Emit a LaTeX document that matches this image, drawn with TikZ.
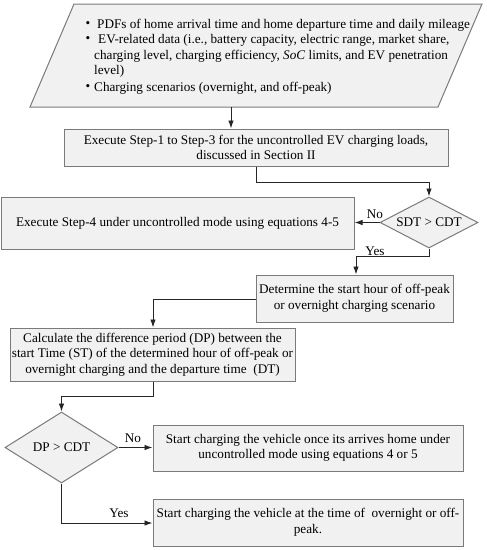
\documentclass[tikz,border=0pt]{standalone}
\usepackage{fontspec}
\setmainfont{Liberation Serif}
\usetikzlibrary{shapes.geometric,arrows.meta}
\definecolor{boxfill}{HTML}{F1F1F1}
\definecolor{boxline}{HTML}{7A7A7A}
\definecolor{arrline}{HTML}{262626}
\tikzset{
  every node/.style={font=\fontsize{13.2}{15.5}\selectfont},
  procbox/.style={draw=boxline, fill=boxfill, line width=1pt, rectangle, inner sep=0pt, align=center},
  decbox/.style={draw=boxline, fill=boxfill, line width=1pt, diamond, aspect=2, inner sep=0pt},
  conn/.style={draw=arrline, line width=0.9pt, -{Latex[length=8pt,width=5.5pt]}},
  lbl/.style={inner sep=0pt},
  txt/.style={inner sep=0pt, anchor=west}
}
\begin{document}
\begin{tikzpicture}[x=1pt,y=-1pt]
\useasboundingbox (0,0) rectangle (487,550);
% input parallelogram
\draw[draw=boxline, fill=boxfill, line width=1pt] (74,4) -- (482,4) -- (438,107) -- (30,107) -- cycle;
\coordinate (inp) at (231,107);
\node[lbl] (b1) at (88,25) {\textbullet};
\node[txt] (t1) at (97,25) {PDFs of home arrival time and home departure time and daily mileage};
\node[lbl] (b2) at (88,40) {\textbullet};
\node[txt] (t2) at (98,40) {EV-related data (i.e., battery capacity, electric range, market share,};
\node[txt] (t3) at (94,56) {charging level, charging efficiency, \textit{SoC} limits, and EV penetration};
\node[txt] (t4) at (94,71) {level)};
\node[lbl] (b3) at (88,88) {\textbullet};
\node[txt] (t5) at (94,88) {Charging scenarios (overnight, and off-peak)};
% boxes
\node[procbox, minimum width=384pt, minimum height=37pt] (box1) at (256,147.5)
  {Execute Step-1 to Step-3 for the uncontrolled EV charging loads,\\discussed in Section II};
\node[decbox, minimum width=98pt, minimum height=51pt] (d1) at (429,222.5) {SDT > CDT};
\node[procbox, minimum width=353pt, minimum height=52pt] (box2) at (177.5,223)
  {Execute Step-4 under uncontrolled mode using equations 4-5};
\node[procbox, minimum width=197pt, minimum height=47pt] (box3) at (354.5,298.5)
  {Determine the start hour of off-peak\\or overnight charging scenario};
\node[procbox, minimum width=285pt, minimum height=53pt] (box4) at (152.5,354.5)
  {Calculate the difference period (DP) between the\\start Time (ST) of the determined hour of off-peak or\\overnight charging and the departure time\ \ (DT)};
\node[decbox, minimum width=113pt, minimum height=71pt] (d2) at (61.5,447.5) {DP > CDT};
\node[procbox, minimum width=310pt, minimum height=46pt] (box5) at (308,448)
  {Start charging the vehicle once its arrives home under\\uncontrolled mode using equations 4 or 5};
\node[procbox, minimum width=310pt, minimum height=47pt] (box6) at (308,522.5)
  {Start charging the vehicle at the time of\ \ overnight or off-\\peak.};
% connectors
\draw[conn] (inp) -- (inp |- box1.north);
\draw[conn] (box1.south -| 256,0) |- (429,182) -- (d1.north);
\draw[conn] (d1.west) -- (box2.east |- d1.west);
\draw[conn] (d1.south) |- (356,256) -- (box3.north -| 356,0);
\draw[conn] (box3.west |- 0,299) -| (box4.north -| 153,0);
\draw[conn] (box4.south -| 153,0) |- (61.5,396) -- (d2.north);
\draw[conn] (d2.east) -- (box5.west |- d2.east);
\draw[conn] (d2.south) |- (box6.west |- 0,523);
% labels
\node[lbl] (no1) at (375,214) {No};
\node[lbl] (yes1) at (375,251) {Yes};
\node[lbl] (no2) at (133,438) {No};
\node[lbl] (yes2) at (119,513) {Yes};
\end{tikzpicture}
\end{document}
